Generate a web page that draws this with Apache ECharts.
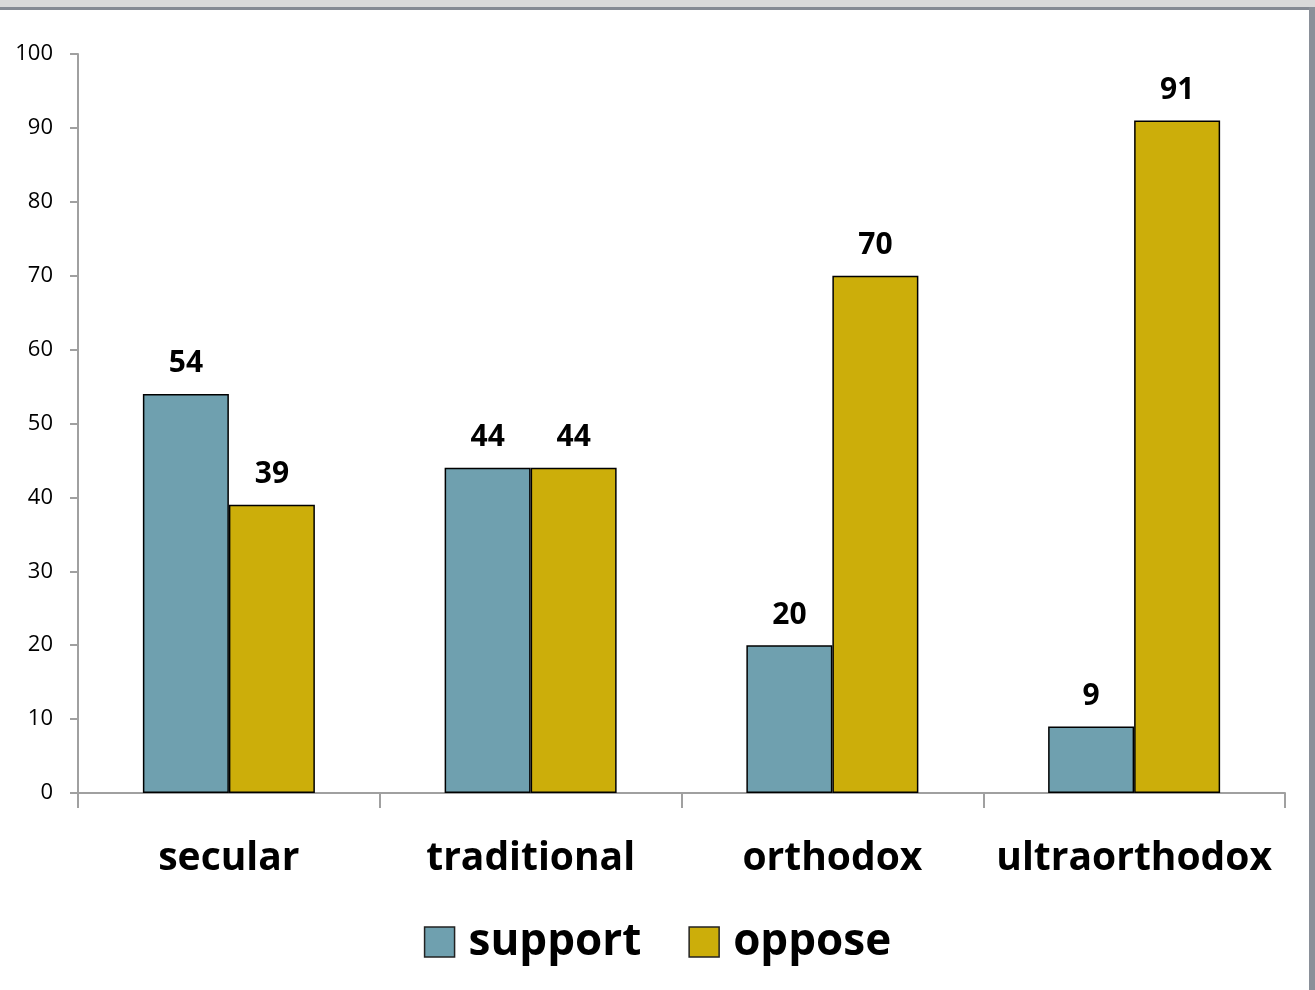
<!DOCTYPE html>
<html>
<head>
<meta charset="utf-8">
<script src="https://cdn.jsdelivr.net/npm/echarts@6/dist/echarts.min.js"></script>
<style>
html,body{margin:0;padding:0;background:#fff;}
#c{width:1315px;height:990px;}
</style>
</head>
<body>
<div id="c"></div>
<script>
var categories = ['secular', 'traditional', 'orthodox', 'ultraorthodox'];
var supportValues = [54, 44, 20, 9];
var opposeValues = [39, 44, 70, 91];
var yTicks = [0, 10, 20, 30, 40, 50, 60, 70, 80, 90, 100];

var chart = echarts.init(document.getElementById('c'));
var FONT = 'Open Sans';
var axisGray = '#a0a0a0';
chart.setOption({
  animation: false,
  backgroundColor: '#ffffff',
  graphic: [
    {type: 'rect', shape: {x: 0, y: 0, width: 1315, height: 7}, style: {fill: '#d9d9d9'}, z: 100},
    {type: 'rect', shape: {x: 0, y: 7, width: 1315, height: 3}, style: {fill: '#858a93'}, z: 100},
    {type: 'rect', shape: {x: 1309, y: 7, width: 6, height: 983}, style: {fill: '#8a9099'}, z: 100}
  ],
  grid: {left: 78, right: 30, top: 54, bottom: 197, containLabel: false},
  legend: {
    left: 'center',
    top: 914,
    itemWidth: 30,
    itemHeight: 30,
    itemGap: 47,
    icon: 'rect',
    data: [
      {name: 'support', itemStyle: {color: '#6fa0af', borderColor: '#222', borderWidth: 1.5}},
      {name: 'oppose', itemStyle: {color: '#ccae0a', borderColor: '#222', borderWidth: 1.5}}
    ],
    textStyle: {fontFamily: FONT, fontWeight: 'bold', fontSize: 44, color: '#000', lineHeight: 46, padding: [0, 0, 0, 9]}
  },
  xAxis: {
    type: 'category',
    data: categories,
    axisLine: {show: true, lineStyle: {color: axisGray, width: 2}},
    axisTick: {show: true, length: 15, lineStyle: {color: axisGray, width: 2}},
    axisLabel: {fontFamily: FONT, fontWeight: 'bold', fontSize: 39, color: '#000', margin: 46, interval: 0},
    splitLine: {show: false}
  },
  yAxis: {
    type: 'value',
    min: yTicks[0],
    max: yTicks[yTicks.length - 1],
    interval: 10,
    axisLine: {show: true, lineStyle: {color: axisGray, width: 2}},
    axisTick: {show: true, length: 8, lineStyle: {color: axisGray, width: 2}},
    axisLabel: {fontFamily: FONT, fontSize: 22, color: '#000', margin: 25},
    splitLine: {show: false}
  },
  series: [
    {
      name: 'support', type: 'bar', data: supportValues, barWidth: 86, barGap: '0%',
      itemStyle: {color: '#6fa0af', borderColor: '#000', borderWidth: 1.5},
      label: {show: true, position: 'top', distance: 15, fontFamily: FONT, fontWeight: 'bold', fontSize: 30, color: '#000'}
    },
    {
      name: 'oppose', type: 'bar', data: opposeValues, barWidth: 86, barGap: '0%',
      itemStyle: {color: '#ccae0a', borderColor: '#000', borderWidth: 1.5},
      label: {show: true, position: 'top', distance: 15, fontFamily: FONT, fontWeight: 'bold', fontSize: 30, color: '#000'}
    }
  ]
});
</script>
</body>
</html>
